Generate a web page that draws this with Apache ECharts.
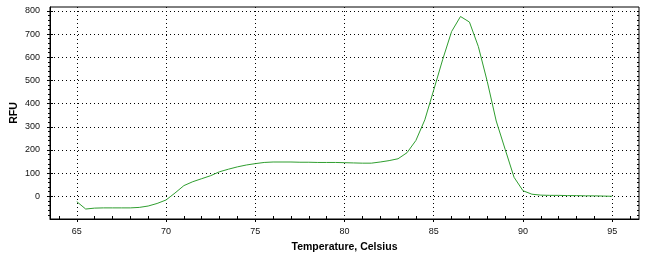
<!DOCTYPE html>
<html>
<head>
<meta charset="utf-8">
<script src="https://cdn.jsdelivr.net/npm/echarts@6/dist/echarts.min.js"></script>
<style>
html,body{margin:0;padding:0;background:#fff;}
#c{width:653px;height:260px;}
</style>
</head>
<body>
<div id="c"></div>
<script>
// Data
var temperature = [65,65.5,66,66.5,67,67.5,68,68.5,69,69.5,70,70.5,71,71.5,72,72.5,73,73.5,74,74.5,75,75.5,76,76.5,77,77.5,78,78.5,79,79.5,80,80.5,81,81.5,82,82.5,83,83.5,84,84.5,85,85.5,86,86.5,87,87.5,88,88.5,89,89.5,90,90.5,91,91.5,92,92.5,93,93.5,94,94.5,95];
var rfu = [-23,-55,-51,-50,-50,-50,-50,-48,-42,-31,-16,14,46,63,76,89,106,117,127,135,141,146,148,148,148,147,147,146,146,146,145,144,143,143,148,154,162,188,241,330,459,590,711,776,752,646,495,325,203,82,24,9,5,4,4,3,3,2,2,1,0];
var xMajorTicks = [65,70,75,80,85,90,95];
var xMinorTicks = [64,66,67,68,69,71,72,73,74,76,77,78,79,81,82,83,84,86,87,88,89,91,92,93,94,96];
var yMajorTicks = [0,100,200,300,400,500,600,700,800];
var yMinorTicks = [-80,-60,-40,-20,20,40,60,80,120,140,160,180,220,240,260,280,320,340,360,380,420,440,460,480,520,540,560,580,620,640,660,680,720,740,760,780,800];
var yAllTicks = [-80,-60,-40,-20,0,20,40,60,80,100,120,140,160,180,200,220,240,260,280,300,320,340,360,380,400,420,440,460,480,500,520,540,560,580,600,620,640,660,680,700,720,740,760,780,800];
var xLabel = 'Temperature, Celsius';
var yLabel = 'RFU';

var XMIN = 63.5, XMAX = 96.5, YMIN = -98, YMAX = 817;
var font = 'Liberation Sans';
var blk = '#000';

var chart = echarts.init(document.getElementById('c'), null, {renderer: 'canvas'});
var points = temperature.map(function (t, i) { return [t, rfu[i]]; });

var gridBox = {left: 50, right: 14, top: 7, bottom: 41, outerBoundsMode: 'none', containLabel: false};
function gridOf(extra) { return Object.assign({}, gridBox, extra || {}); }

function tickX(grid, ticks, inside, len) {
  return {
    gridIndex: grid, type: 'value', min: XMIN, max: XMAX, position: 'bottom',
    axisLine: {show: false, onZero: false},
    axisTick: {show: ticks.length > 0, inside: inside, length: len, customValues: ticks.length ? ticks : [XMIN], lineStyle: {color: blk}},
    axisLabel: {show: false},
    splitLine: {show: false}
  };
}
function tickY(grid, ticks, pos, inside, len) {
  return {
    gridIndex: grid, type: 'value', min: YMIN, max: YMAX, position: pos,
    axisLine: {show: false, onZero: false},
    axisTick: {show: true, inside: inside, length: len, customValues: ticks, lineStyle: {color: blk}},
    axisLabel: {show: false},
    splitLine: {show: false}
  };
}

chart.setOption({
  animation: false,
  backgroundColor: '#fff',
  grid: [
    gridOf({show: true, borderColor: blk, borderWidth: 1, backgroundColor: 'transparent'}),
    gridOf(),
    gridOf()
  ],
  xAxis: [
    {
      gridIndex: 0, type: 'value', min: XMIN, max: XMAX, position: 'bottom',
      name: xLabel, nameLocation: 'middle', nameGap: 23, nameMoveOverlap: false,
      nameTextStyle: {fontFamily: font, fontSize: 10.5, fontWeight: 'bold', color: blk},
      axisLine: {show: true, onZero: false, lineStyle: {color: blk, width: 1}},
      axisTick: {show: true, inside: false, length: 3, customValues: xMajorTicks, lineStyle: {color: blk}},
      axisLabel: {show: true, customValues: xMajorTicks, margin: 8, fontFamily: font, fontSize: 9, color: '#111'},
      splitLine: {show: true, lineStyle: {color: blk, width: 1, type: [1, 3]}}
    },
    tickX(1, xMinorTicks, true, 3),
    tickX(2, [], true, 0)
  ],
  yAxis: [
    {
      gridIndex: 0, type: 'value', min: YMIN, max: YMAX, position: 'left',
      name: yLabel, nameLocation: 'middle', nameGap: 30, nameMoveOverlap: false,
      nameTextStyle: {fontFamily: font, fontSize: 10.5, fontWeight: 'bold', color: blk},
      axisLine: {show: true, onZero: false, lineStyle: {color: blk, width: 1}},
      axisTick: {show: true, inside: false, length: 3, customValues: yMajorTicks, lineStyle: {color: blk}},
      axisLabel: {show: true, customValues: yMajorTicks, margin: 10, fontFamily: font, fontSize: 9, color: '#111'},
      splitLine: {show: true, lineStyle: {color: blk, width: 1, type: [1, 3]}}
    },
    tickY(0, yAllTicks, 'right', true, 2),
    tickY(1, yMinorTicks, 'left', false, 2),
    tickY(2, yMajorTicks, 'left', true, 3)
  ],
  series: [{
    type: 'line', xAxisIndex: 0, yAxisIndex: 0,
    data: points, showSymbol: false, smooth: false,
    lineStyle: {color: '#2f9e2f', width: 1},
    itemStyle: {color: '#2f9e2f'}
  }]
});
</script>
</body>
</html>
